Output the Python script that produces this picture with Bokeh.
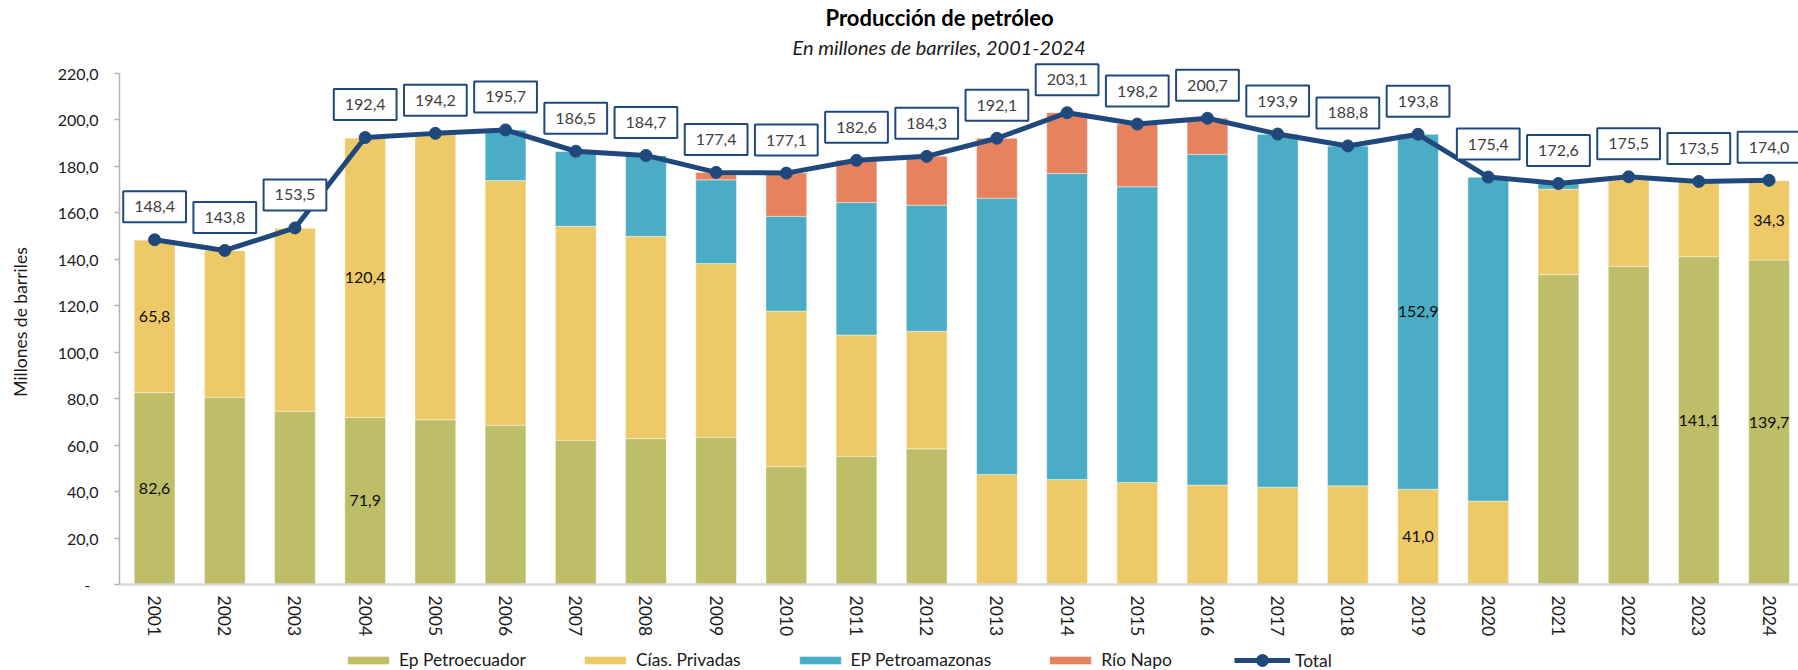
import numpy as np
from bokeh.plotting import figure
from bokeh.layouts import column
from bokeh.models import (Range1d, FixedTicker, Title, Label, Legend, LegendItem, ColumnDataSource)
from bokeh.embed import file_html
from bokeh.resources import INLINE

years = [str(y) for y in range(2001, 2025)]
petroecuador = [82.6, 80.6, 74.6, 71.9, 70.9, 68.6, 62.1, 62.8, 63.4, 50.7, 55.2, 58.4,
                0, 0, 0, 0, 0, 0, 0, 0, 133.4, 137.0, 141.1, 139.7]
privadas = [65.8, 63.2, 78.9, 120.4, 123.3, 105.3, 92.1, 87.1, 74.8, 67.0, 52.2, 50.6,
            47.4, 45.2, 43.9, 42.8, 41.9, 42.5, 41.0, 35.9, 36.8, 38.5, 32.4, 34.3]
petroamazonas = [0, 0, 0, 0, 0, 21.8, 32.3, 34.8, 36.0, 40.8, 57.0, 54.3,
                 118.9, 131.7, 127.3, 142.4, 152.0, 146.3, 152.9, 139.5, 2.4, 0, 0, 0]
rionapo = [0, 0, 0, 0, 0, 0, 0, 0, 3.2, 18.6, 18.2, 21.0,
           25.8, 26.2, 27.0, 15.5, 0, 0, 0, 0, 0, 0, 0, 0]
total = [148.4, 143.8, 153.5, 192.4, 194.2, 195.7, 186.5, 184.7, 177.4, 177.1, 182.6, 184.3,
         192.1, 203.1, 198.2, 200.7, 193.9, 188.8, 193.8, 175.4, 172.6, 175.5, 173.5, 174.0]

series_keys = ["petroecuador", "privadas", "petroamazonas", "rionapo"]
series_names = ["Ep Petroecuador", "Cías. Privadas", "EP Petroamazonas", "Río Napo"]
total_name = "Total"
colors = ["#BDBE67", "#EEC967", "#4BACC6", "#E6825E"]
line_color = "#1F497D"

y_ticks = list(range(0, 221, 20))

# segments that carry a value label
segment_labels = [("2001", "petroecuador"), ("2001", "privadas"),
                  ("2004", "petroecuador"), ("2004", "privadas"),
                  ("2019", "privadas"), ("2019", "petroamazonas"),
                  ("2023", "petroecuador"), ("2024", "petroecuador"),
                  ("2024", "privadas")]

FONT = "Lato"


def fmt(v):
    return f"{v:.1f}".replace(".", ",")


xs = list(range(len(years)))
data = dict(x=xs, petroecuador=petroecuador, privadas=privadas,
            petroamazonas=petroamazonas, rionapo=rionapo, total=total)
source = ColumnDataSource(data)

p = figure(width=1798, height=644, x_range=Range1d(-0.5, 23.42), y_range=Range1d(0, 226),
           output_backend="svg", toolbar_location=None, title=None,
           min_border_left=119, min_border_right=0, min_border_top=59, min_border_bottom=60)
p.outline_line_color = None
p.xgrid.visible = False
p.ygrid.visible = False

bar_style = dict(line_color="white", line_width=0.8, line_alpha=0.5)
bars = p.vbar_stack(series_keys, x="x", width=0.58, source=source, fill_color=colors, **bar_style)

ln = p.line("x", "total", source=source, line_color=line_color, line_width=5)
sc = p.scatter("x", "total", source=source, size=12, fill_color=line_color, line_color=line_color)

# segment value labels
arr = {k: np.array(data[k]) for k in series_keys}
for yr, key in segment_labels:
    i = years.index(yr)
    k = series_keys.index(key)
    bottom = sum(arr[s][i] for s in series_keys[:k])
    val = arr[key][i]
    p.add_layout(Label(x=i, y=bottom + val / 2, text=fmt(val), text_align="center",
                       text_baseline="middle", text_font=FONT, text_font_size="16px",
                       text_color="#0d0d0d"))

# total labels in boxes
for i, v in enumerate(total):
    p.add_layout(Label(x=i, y=v, y_offset=33, text=fmt(v), text_align="center",
                       text_baseline="middle", text_font=FONT, text_font_size="16px",
                       text_color="#404040", background_fill_color="white",
                       border_line_color=line_color, border_line_width=2,
                       padding=dict(left=11, right=11, top=10, bottom=10)))

# axes
p.yaxis.ticker = FixedTicker(ticks=y_ticks)
p.yaxis.major_label_overrides = {t: ("-\u00a0\u00a0" if t == 0 else fmt(t)) for t in y_ticks}
p.yaxis.bounds = (0, 220)
p.yaxis.axis_line_color = "#B3B3B3"
p.yaxis.axis_line_width = 1.5
p.yaxis.major_tick_line_color = "#B3B3B3"
p.yaxis.major_tick_line_width = 1.5
p.yaxis.major_tick_out = 5
p.yaxis.major_tick_in = 0
p.yaxis.minor_tick_line_color = None
p.yaxis.major_label_standoff = 16
p.yaxis.major_label_text_font = FONT
p.yaxis.major_label_text_font_size = "16px"
p.yaxis.major_label_text_color = "#1a1a1a"
p.yaxis.axis_label = "Millones de barriles"
p.yaxis.axis_label_text_font = FONT
p.yaxis.axis_label_text_font_size = "17.5px"
p.yaxis.axis_label_text_font_style = "normal"
p.yaxis.axis_label_text_color = "#1a1a1a"
p.yaxis.axis_label_standoff = 24

p.xaxis.ticker = FixedTicker(ticks=xs)
p.xaxis.major_label_overrides = {i: y for i, y in zip(xs, years)}
p.xaxis.major_label_orientation = "vertical"
p.xaxis.axis_line_color = "#D9D9D9"
p.xaxis.axis_line_width = 2.5
p.xaxis.major_tick_line_color = None
p.xaxis.minor_tick_line_color = None
p.xaxis.major_tick_out = 0
p.xaxis.major_tick_in = 0
p.xaxis.major_label_standoff = 11
p.xaxis.major_label_text_font = FONT
p.xaxis.major_label_text_font_size = "17.5px"
p.xaxis.major_label_text_color = "#1a1a1a"

# titles
p.add_layout(Title(text="En millones de barriles, 2001-2024", align="left", offset=673,
                   text_font=FONT, text_font_style="italic", text_font_size="20px",
                   text_color="#1a1a1a", standoff=2), "above")
p.add_layout(Title(text="Producción de petróleo", align="left", offset=706,
                   text_font=FONT, text_font_style="bold", text_font_size="22px",
                   text_color="#000000", standoff=2), "above")

# legend strip: a separate figure whose proxy renderers use the chart data but lie
# outside its visible range, so only the legend is seen
lg = figure(width=1798, height=26, x_range=Range1d(1000, 1001), y_range=Range1d(1000, 1001),
            output_backend="svg", toolbar_location=None, title=None,
            x_axis_type=None, y_axis_type=None,
            min_border_left=0, min_border_right=0, min_border_top=0, min_border_bottom=0)
lg.outline_line_color = None
lg.xgrid.visible = False
lg.ygrid.visible = False
proxies = [lg.vbar(x="x", top=k, width=0.58, source=source, fill_color=c, **bar_style)
           for k, c in zip(series_keys, colors)]
pl = lg.line("x", "total", source=source, line_color=line_color, line_width=5)
ps = lg.scatter("x", "total", source=source, size=12, fill_color=line_color, line_color=line_color)

legend_style = dict(orientation="horizontal", label_standoff=5, label_height=20,
                    padding=0, margin=0, border_line_color=None, background_fill_alpha=0,
                    label_text_font=FONT, label_text_font_size="17.4px",
                    label_text_color="#1a1a1a")
bar_legend = Legend(items=[LegendItem(label=n, renderers=[r]) for n, r in zip(series_names, proxies)],
                    location=(223, 0), glyph_width=52, glyph_height=10, spacing=53, **legend_style)
line_legend = Legend(items=[LegendItem(label=total_name, renderers=[pl, ps])],
                     location=(1115, -5), glyph_width=56, glyph_height=30, **legend_style)
lg.add_layout(bar_legend, "center")
lg.add_layout(line_legend, "center")

layout = column(p, lg, spacing=0)
open("out.html", "w").write(file_html(layout, INLINE))
